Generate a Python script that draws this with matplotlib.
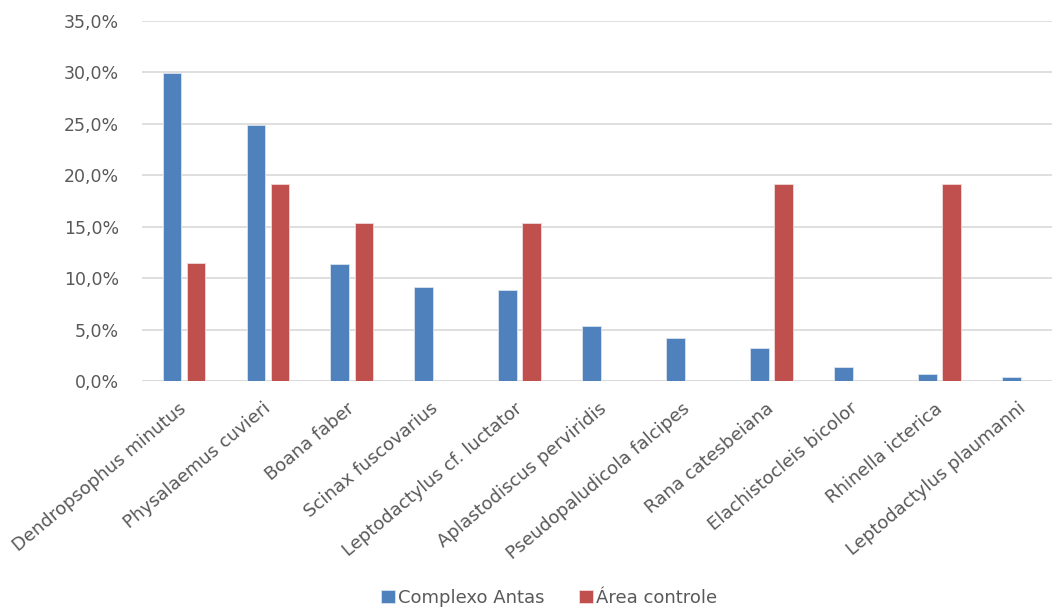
import numpy as np
import matplotlib
matplotlib.use('Agg')
import matplotlib.pyplot as plt
from matplotlib.ticker import FuncFormatter

species = ['Dendropsophus minutus', 'Physalaemus cuvieri', 'Boana faber', 'Scinax fuscovarius',
           'Leptodactylus cf. luctator', 'Aplastodiscus perviridis', 'Pseudopaludicola falcipes',
           'Rana catesbeiana', 'Elachistocleis bicolor', 'Rhinella icterica', 'Leptodactylus plaumanni']
complexo_antas = [29.9, 24.9, 11.4, 9.2, 8.9, 5.4, 4.2, 3.2, 1.4, 0.7, 0.4]
area_controle = [11.5, 19.2, 15.4, 0.0, 15.4, 0.0, 0.0, 19.2, 0.0, 19.2, 0.0]

plt.rcParams['font.family'] = ['DejaVu Sans']
grey = '#595959'

fig = plt.figure(figsize=(10.52, 6.10), dpi=100)
# plot area runs past the right edge of the picture, as in the reference
ax = fig.add_axes([0.135, 0.375, 0.878, 0.5906])

x = np.arange(len(species))
w = 0.225
ax.bar(x - 0.143, complexo_antas, w, color='#4F81BD', edgecolor='#dbe4f0', linewidth=0.6,
       label='Complexo Antas', zorder=3)
ax.bar(x + 0.143, area_controle, w, color='#C0504D', edgecolor='#f0d9d8', linewidth=0.6,
       label='Área controle', zorder=3)

ax.set_xlim(-0.5, len(species) - 0.5)
ax.set_ylim(0, 35)
ax.set_yticks(np.arange(0, 36, 5))
ax.yaxis.set_major_formatter(FuncFormatter(lambda v, p: f'{v:.1f}%'.replace('.', ',')))
ax.grid(axis='y', color='#d9d9d9', linewidth=1.2, zorder=0)
for s in ['top', 'right', 'left', 'bottom']:
    ax.spines[s].set_visible(False)
ax.axhline(0, color='#d9d9d9', linewidth=1.2, zorder=1)
ax.tick_params(axis='both', length=0, colors=grey, labelsize=12.5)
ax.tick_params(axis='y', pad=16.5)

ax.set_xticks(x)
ax.set_xticklabels(species, rotation=40, ha='right', va='center', rotation_mode='anchor',
                   fontsize=13, color=grey)
ax.tick_params(axis='x', pad=18)

leg = fig.legend(loc='center', bbox_to_anchor=(0.522, 0.02), ncol=2, frameon=False,
                 fontsize=13, handlelength=0.75, handleheight=0.75, handletextpad=0.2,
                 columnspacing=1.9)
for t in leg.get_texts():
    t.set_color(grey)

fig.savefig('out.png', dpi=100)
